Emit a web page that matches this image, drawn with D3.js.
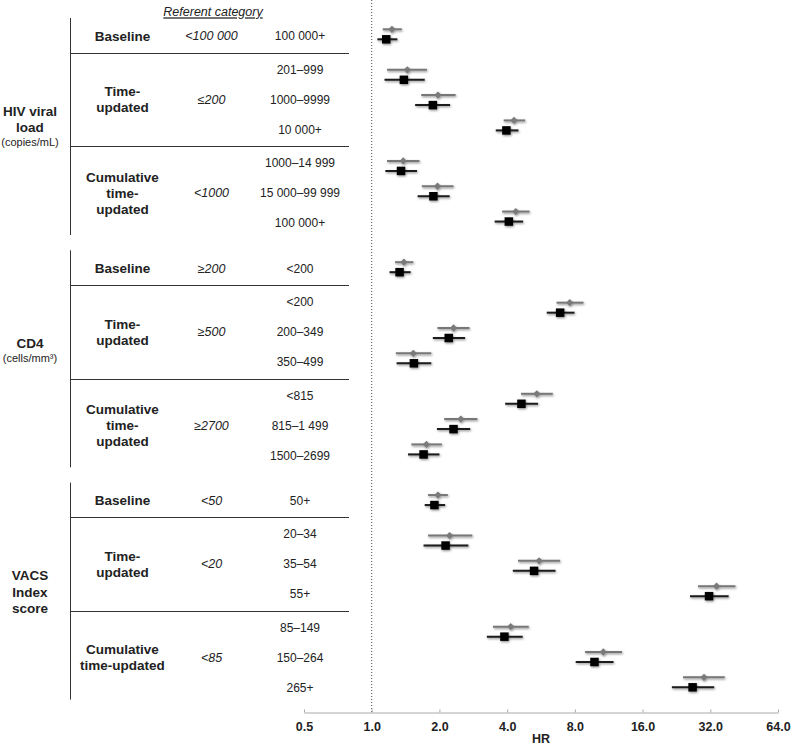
<!DOCTYPE html>
<html>
<head>
<meta charset="utf-8">
<script src="https://cdn.jsdelivr.net/npm/d3@7"></script>
<style>
  html, body { margin: 0; padding: 0; background: #fff; }
  svg { display: block; font-family: "Liberation Sans", Arial, sans-serif; }
</style>
</head>
<body>
<svg id="chart" width="791" height="745"></svg>
<script>
// ---------------- DATA ----------------
const sectionTitles = [["HIV viral", "load"], ["CD4"], ["VACS", "Index", "score"]];
const sectionUnits = ["(copies/mL)", "(cells/mm³)", ""];
const groupNames = [
  [["Baseline"], ["Time-", "updated"], ["Cumulative", "time-", "updated"]],
  [["Baseline"], ["Time-", "updated"], ["Cumulative", "time-", "updated"]],
  [["Baseline"], ["Time-", "updated"], ["Cumulative", "time-updated"]]
];
const referents = [
  ["<100 000", "≤200", "<1000"],
  ["≥200", "≥500", "≥2700"],
  ["<50", "<20", "<85"]
];
const categories = [
  [["100 000+"], ["201–999", "1000–9999", "10 000+"], ["1000–14 999", "15 000–99 999", "100 000+"]],
  [["<200"], ["<200", "200–349", "350–499"], ["<815", "815–1 499", "1500–2699"]],
  [["50+"], ["20–34", "35–54", "55+"], ["85–149", "150–264", "265+"]]
];
const headerLabel = "Referent category";
const axisTitle = "HR";
const tickValues = [0.5, 1, 2, 4, 8, 16, 32, 64];

// gray diamond series
const grayHR = [1.23, 1.44, 1.97, 4.29, 1.38, 1.96, 4.37, 1.39, 7.59, 2.31, 1.53, 5.42, 2.49, 1.75, 1.97, 2.22, 5.55, 34.1, 4.15, 10.7, 30.0];
const grayLo = [1.12, 1.17, 1.66, 3.86, 1.17, 1.67, 3.80, 1.27, 6.63, 1.96, 1.28, 4.61, 2.10, 1.50, 1.78, 1.78, 4.47, 28.2, 3.46, 8.88, 24.2];
const grayHi = [1.36, 1.76, 2.36, 4.81, 1.63, 2.31, 5.03, 1.53, 8.74, 2.72, 1.84, 6.38, 2.95, 2.05, 2.18, 2.80, 6.88, 41.4, 4.99, 12.97, 37.1];
// black square series
const blackHR = [1.16, 1.39, 1.87, 3.97, 1.35, 1.88, 4.07, 1.33, 6.88, 2.20, 1.54, 4.63, 2.31, 1.70, 1.90, 2.13, 5.27, 31.6, 3.89, 9.78, 26.7];
const blackLo = [1.06, 1.14, 1.56, 3.56, 1.15, 1.60, 3.52, 1.20, 6.00, 1.87, 1.29, 3.92, 1.95, 1.45, 1.72, 1.70, 4.24, 26.0, 3.25, 8.07, 21.6];
const blackHi = [1.30, 1.72, 2.23, 4.49, 1.59, 2.22, 4.71, 1.49, 7.97, 2.60, 1.84, 5.49, 2.74, 2.00, 2.12, 2.69, 6.56, 38.6, 4.69, 11.88, 33.3];

// ---------------- LAYOUT ----------------
const svg = d3.select("#chart");
const FONT = "'Liberation Sans', Arial, sans-serif";

// flatten rows
const rows = [];
categories.forEach((sec, s) => sec.forEach((grp, g) => grp.forEach((cat, i) => rows.push({s, g, i, cat}))));

// plot slots: +1 within group, +1.6 between groups, +2 between sections
let slot = 0;
rows.forEach((r, k) => {
  if (k > 0) {
    const p = rows[k - 1];
    slot += (p.s !== r.s) ? 2.0 : (p.g !== r.g ? 1.6 : 1.0);
  }
  r.slot = slot;
});
const y = d3.scaleLinear().domain([0, slot]).range([34.3, 682.3]);

const x = d3.scaleLog().base(2).domain([0.5, 64]).range([304, 778]);
const axisY = 712.5;

// label-table row offsets within a section
const secStart = d3.scaleLinear().domain([0, 1]).range([36, 268.3]);
const labelStep = 30, groupExtra = 3.5;
rows.forEach((r, k) => {
  const p = rows[k - 1];
  if (!p || p.s !== r.s) r.rel = 0;
  else r.rel = p.rel + labelStep + (p.g !== r.g ? groupExtra : 0);
  r.ly = secStart(r.s) + r.rel;
});

const colSection = 30, colGroup = 122.5, colRef = 211.5, colCat = 300, tableLeft = 70.5, tableRight = 349;

// header
svg.append("text")
  .attr("x", 213).attr("y", 12).attr("dy", "0.35em")
  .attr("text-anchor", "middle")
  .style("font-size", "12.5px").style("font-style", "italic")
  .style("text-decoration", "underline").attr("fill", "#222")
  .text(headerLabel);

// dotted reference line at HR = 1
svg.append("line")
  .attr("x1", x(1)).attr("x2", x(1)).attr("y1", 0).attr("y2", axisY)
  .attr("stroke", "#444").attr("stroke-width", 1).attr("stroke-dasharray", "1,2");

// table per section
sectionTitles.forEach((lines, s) => {
  const secRows = rows.filter(r => r.s === s);
  const base = secStart(s);
  const last = d3.max(secRows, r => r.rel);
  // vertical line
  svg.append("line")
    .attr("x1", tableLeft).attr("x2", tableLeft)
    .attr("y1", base - 18).attr("y2", base + last + 12)
    .attr("stroke", "#333").attr("stroke-width", 1);
  // section title
  lines.forEach((t, j) => {
    svg.append("text")
      .attr("x", colSection).attr("y", base + 75 + j * 16.5).attr("dy", "0.35em")
      .attr("text-anchor", "middle")
      .style("font-size", "13.5px").style("font-weight", "bold").attr("fill", "#222")
      .text(t);
  });
  if (sectionUnits[s]) {
    svg.append("text")
      .attr("x", colSection).attr("y", base + 75 + (lines.length - 1) * 16.5 + 15).attr("dy", "0.35em")
      .attr("text-anchor", "middle")
      .style("font-size", "11px").attr("fill", "#222")
      .text(sectionUnits[s]);
  }
  // groups
  groupNames[s].forEach((gl, g) => {
    const gRows = secRows.filter(r => r.g === g);
    const mid = (d3.min(gRows, r => r.ly) + d3.max(gRows, r => r.ly)) / 2;
    gl.forEach((t, j) => {
      svg.append("text")
        .attr("x", colGroup).attr("y", mid + (j - (gl.length - 1) / 2) * 16).attr("dy", "0.35em")
        .attr("text-anchor", "middle")
        .style("font-size", "13.5px").style("font-weight", "bold").attr("fill", "#222")
        .text(t);
    });
    svg.append("text")
      .attr("x", colRef).attr("y", mid).attr("dy", "0.35em")
      .attr("text-anchor", "middle")
      .style("font-size", "12.5px").style("font-style", "italic").attr("fill", "#222")
      .text(referents[s][g]);
    // separator below group (except last)
    if (g < groupNames[s].length - 1) {
      const nextFirst = secRows.find(r => r.g === g + 1);
      const lastRow = gRows[gRows.length - 1];
      const sy = Math.round((lastRow.ly + nextFirst.ly) / 2) + 0.5;
      svg.append("line")
        .attr("x1", tableLeft).attr("x2", tableRight).attr("y1", sy).attr("y2", sy)
        .attr("stroke", "#333").attr("stroke-width", 1);
    }
  });
});

// categories
svg.append("g").selectAll("text").data(rows).join("text")
  .attr("x", colCat).attr("y", d => d.ly).attr("dy", "0.35em")
  .attr("text-anchor", "middle")
  .style("font-size", "12px").attr("fill", "#222")
  .text(d => d.cat);

// shadow filter
const defs = svg.append("defs");
const f = defs.append("filter").attr("id", "sh").attr("x", "-50%").attr("y", "-50%").attr("width", "200%").attr("height", "200%");
f.append("feDropShadow").attr("dx", 0.8).attr("dy", 1.2).attr("stdDeviation", 1.1)
  .attr("flood-color", "#000").attr("flood-opacity", 0.45);

// series
const series = [
  {hr: grayHR, lo: grayLo, hi: grayHi, dy: -5, line: "#777", fill: "#7a7a7a", sym: d3.symbolDiamond2, size: 34},
  {hr: blackHR, lo: blackLo, hi: blackHi, dy: 5, line: "#1a1a1a", fill: "#000", sym: d3.symbolSquare, size: 72}
];
const plot = svg.append("g").attr("filter", "url(#sh)");
series.forEach(se => {
  const g = plot.append("g");
  g.selectAll("line").data(rows).join("line")
    .attr("x1", (d, k) => x(se.lo[k])).attr("x2", (d, k) => x(se.hi[k]))
    .attr("y1", d => y(d.slot) + se.dy).attr("y2", d => y(d.slot) + se.dy)
    .attr("stroke", se.line).attr("stroke-width", 2);
  g.selectAll("path").data(rows).join("path")
    .attr("transform", (d, k) => `translate(${x(se.hr[k])},${y(d.slot) + se.dy})`)
    .attr("d", d3.symbol().type(se.sym).size(se.size))
    .attr("fill", se.fill);
});

// axis
const axis = d3.axisBottom(x)
  .tickValues(tickValues)
  .tickFormat(d3.format(".1f"))
  .tickSizeInner(-3).tickSizeOuter(0).tickPadding(10);
const ag = svg.append("g").attr("transform", `translate(0,${axisY})`).call(axis);
ag.select(".domain").attr("stroke", "#aaa");
ag.selectAll(".tick line").attr("stroke", "#aaa");
ag.selectAll(".tick text")
  .style("font-family", FONT).style("font-size", "12.5px").style("font-weight", "bold").attr("fill", "#222");

svg.append("text")
  .attr("x", (x.range()[0] + x.range()[1]) / 2).attr("y", 739).attr("dy", "0.35em")
  .attr("text-anchor", "middle")
  .style("font-size", "12.5px").style("font-weight", "bold").attr("fill", "#222")
  .text(axisTitle);
</script>
</body>
</html>
